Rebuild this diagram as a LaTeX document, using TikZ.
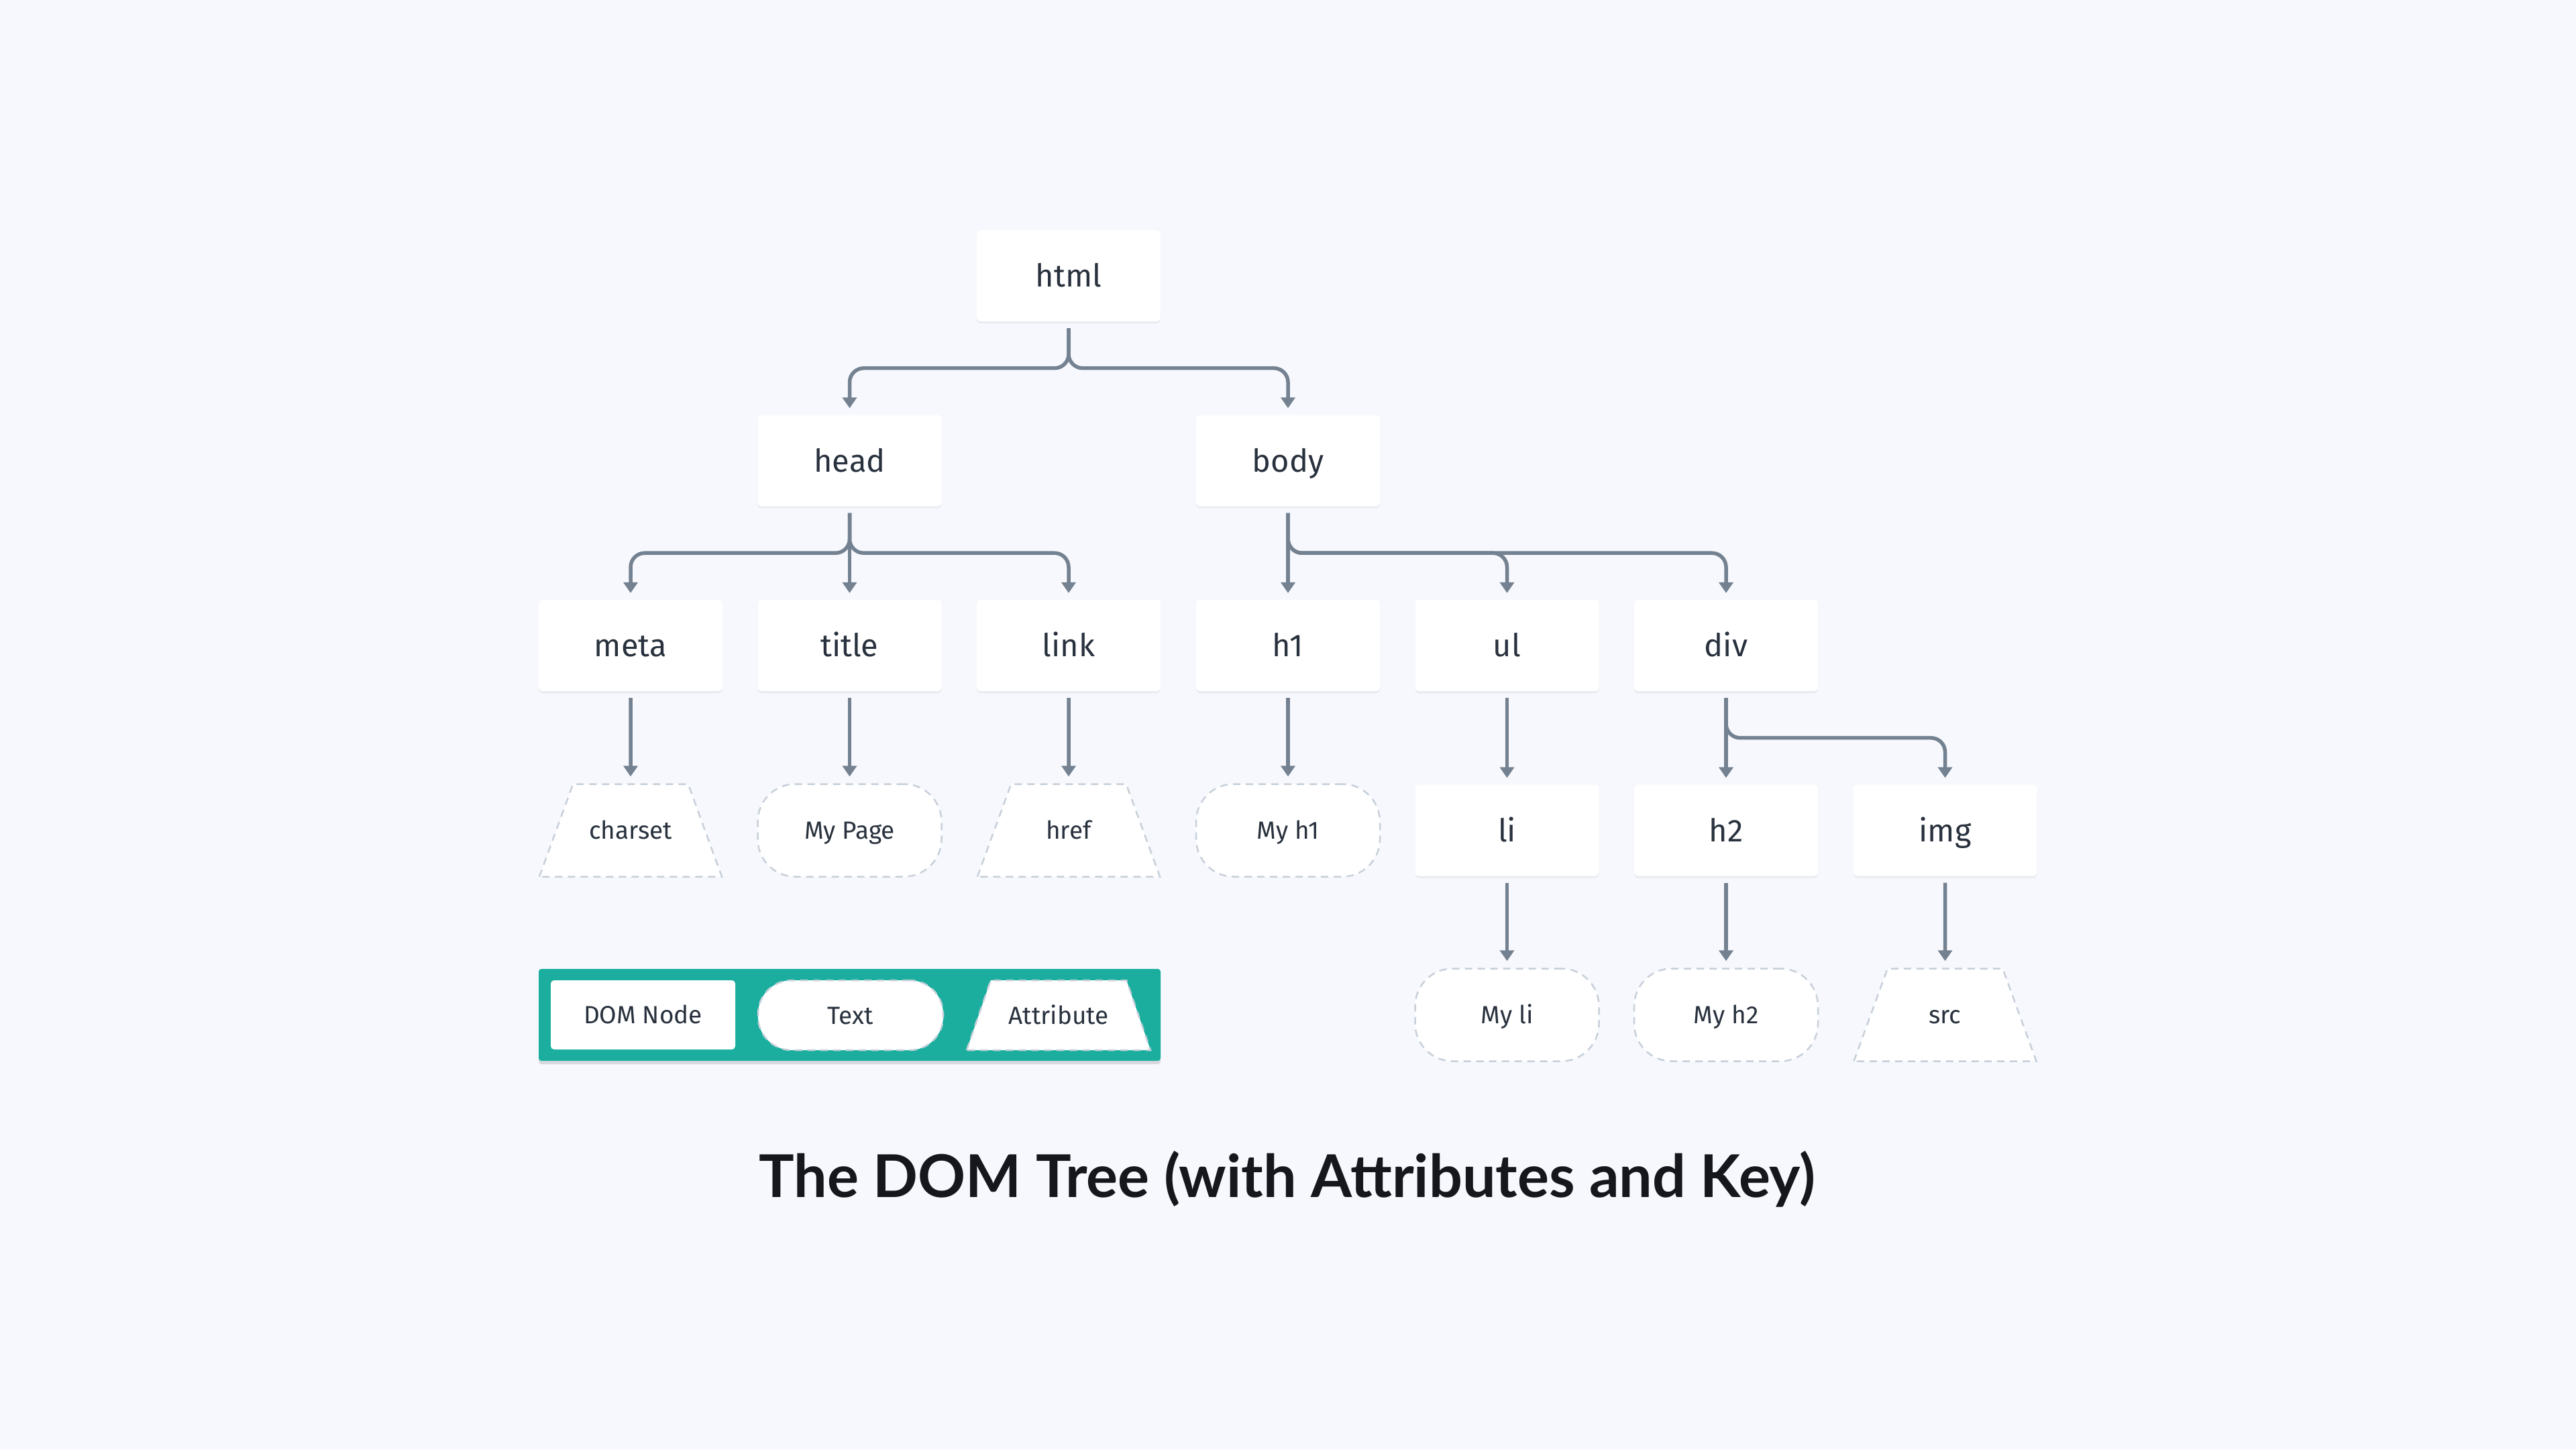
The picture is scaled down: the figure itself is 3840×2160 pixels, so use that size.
\documentclass[tikz,border=0pt]{standalone}
\usepackage{fontspec}
\setmainfont{Fira Sans}
\newfontfamily\titlefont{Lato}
\usetikzlibrary{shapes.geometric,arrows.meta,shadows}

\definecolor{bgc}{HTML}{F7F8FD}
\definecolor{inkc}{HTML}{28313D}
\definecolor{edgec}{HTML}{738190}
\definecolor{dashc}{HTML}{C7D0DA}
\definecolor{tealc}{HTML}{1BAE9F}
\definecolor{titlec}{HTML}{15171C}

\tikzset{
  bigtext/.style={font=\fontsize{47}{56}\selectfont, text=inkc, text height=33pt, text depth=0pt, inner sep=0pt},
  smalltext/.style={font=\fontsize{37}{44}\selectfont, text=inkc, text height=26pt, text depth=0pt, inner sep=0pt},
  softshadow/.style={drop shadow={shadow xshift=0pt, shadow yshift=-3pt, opacity=0.05, fill=black}},
  domnode/.style={bigtext, fill=white, draw=none, rounded corners=6pt, minimum width=274pt, minimum height=136pt, softshadow},
  dashline/.style={draw=dashc, line width=2.5pt, dash pattern=on 11pt off 8pt},
  textnode/.style={smalltext, fill=white, dashline, rounded corners=56pt, minimum width=274pt, minimum height=138pt},
  attrnode/.style={smalltext, fill=white, dashline, trapezium, trapezium left angle=70, trapezium right angle=70,
     text width=171.6pt, align=center, inner xsep=0pt, inner ysep=56pt},
  keybox/.style={fill=tealc, draw=none, rounded corners=4pt, minimum width=927pt, minimum height=137pt, inner sep=0pt, drop shadow={shadow xshift=0pt, shadow yshift=-5pt, opacity=0.12, fill=black}},
  keydom/.style={smalltext, fill=white, draw=none, rounded corners=5pt, minimum width=275pt, minimum height=103pt},
  keytext/.style={smalltext, fill=white, dashline, rounded corners=50pt, minimum width=276pt, minimum height=104pt},
  keyattr/.style={smalltext, fill=white, dashline, trapezium, trapezium left angle=71, trapezium right angle=71,
     text width=202.4pt, align=center, inner xsep=0pt, inner ysep=39pt},
  edge/.style={draw=edgec, line width=5.5pt, rounded corners=21pt, -{Triangle[width=21pt,length=16pt]}},
  titletext/.style={font=\titlefont\bfseries\fontsize{88}{104}\selectfont, text=titlec, inner sep=0pt}
}

\newcommand{\branchedge}[2]{\draw[edge] ([yshift=-10pt]#1.south) -- ([yshift=-69.5pt]#1.south) -| ([yshift=10pt]#2.north);}
\newcommand{\straightedge}[2]{\draw[edge] ([yshift=-10pt]#1.south) -- ([yshift=10pt]#2.north);}

\begin{document}
\begin{tikzpicture}[x=1pt,y=-1pt]
\path[fill=bgc, use as bounding box] (0,0) rectangle (3840,2160);

% row 1-2
\node[domnode] (html) at (1593,411) {html};
\node[domnode] (head) at (1266.5,686.5) {head};
\node[domnode] (body) at (1920,686.5) {body};

% row 3
\node[domnode] (meta)  at (940,962) {meta};
\node[domnode] (title) at (1266.5,962) {title};
\node[domnode] (link)  at (1593,962) {link};
\node[domnode] (h1)    at (1920,962) {h1};
\node[domnode] (ul)    at (2246.5,962) {ul};
\node[domnode] (div)   at (2573,962) {div};

% row 4
\node[attrnode] (charset) at (940,1237.5) {charset};
\node[textnode] (mypage)  at (1266.5,1237.5) {My Page};
\node[attrnode] (href)    at (1593,1237.5) {href};
\node[textnode] (myh1)    at (1920,1237.5) {My h1};
\node[domnode]  (li)      at (2246.5,1237.5) {li};
\node[domnode]  (h2)      at (2573,1237.5) {h2};
\node[domnode]  (img)     at (2899.5,1237.5) {img};

% row 5
\node[textnode] (myli) at (2246.5,1512.5) {My li};
\node[textnode] (myh2) at (2573,1512.5) {My h2};
\node[attrnode] (src)  at (2899.5,1512.5) {src};

% key
\node[keybox] (key) at (1266.5,1512.5) {};
\node[keydom]  (kdom)  at (958.5,1512.5) {DOM Node};
\node[keytext] (ktext) at (1268,1513) {Text};
\node[keyattr] (kattr) at (1578,1513) {Attribute};

% title
\node[titletext, anchor=base] (ttl) at (1919,1784) {The DOM Tree (with Attributes and Key)};

% connectors
\branchedge{html}{head}
\branchedge{html}{body}
\branchedge{head}{meta}
\straightedge{head}{title}
\branchedge{head}{link}
\straightedge{body}{h1}
\branchedge{body}{ul}
\branchedge{body}{div}
\straightedge{meta}{charset}
\straightedge{title}{mypage}
\straightedge{link}{href}
\straightedge{h1}{myh1}
\straightedge{ul}{li}
\straightedge{div}{h2}
\branchedge{div}{img}
\straightedge{li}{myli}
\straightedge{h2}{myh2}
\straightedge{img}{src}
\end{tikzpicture}
\end{document}
